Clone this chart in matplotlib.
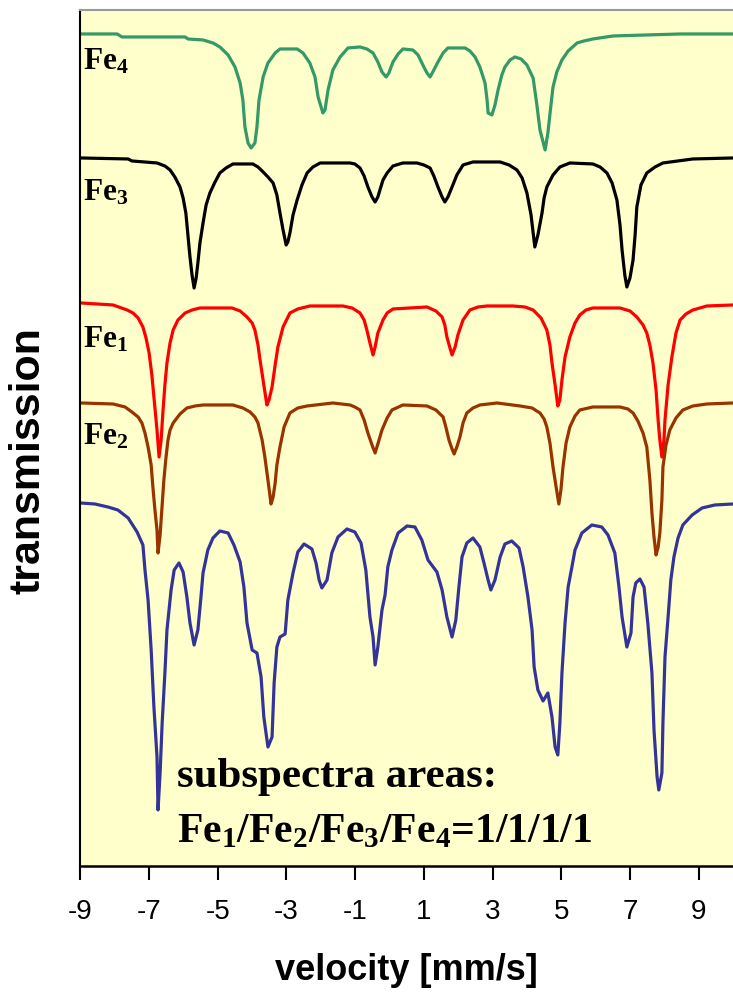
import matplotlib
matplotlib.use('Agg')
import matplotlib.pyplot as plt

# 速度 (mm/s) 和 透射率 (任意单位, 各子谱已上下叠放)
fe4_v = [-8.98, -7.93, -7.79, -5.95, -5.87, -5.43, -5.14, -4.94, -4.70, -4.50, -4.35, -4.27, -4.21,
         -4.12, -4.03, -3.92, -3.86, -3.80, -3.68, -3.54, -3.33, -3.19, -2.69, -2.52, -2.32, -2.17,
         -2.08, -1.94, -1.88, -1.79, -1.65, -1.44, -1.21, -0.86, -0.66, -0.48, -0.34, -0.22, -0.10,
         -0.02, 0.10, 0.25, 0.39, 0.68, 0.83, 0.97, 1.09, 1.18, 1.26, 1.41, 1.56, 1.70, 2.20, 2.34,
         2.49, 2.63, 2.78, 2.84, 2.87, 2.98, 3.07, 3.16, 3.27, 3.36, 3.51, 3.65, 3.83, 4.00, 4.18,
         4.29, 4.38, 4.53, 4.61, 4.70, 4.76, 4.87, 5.02, 5.20, 5.46, 5.66, 5.92, 6.51, 8.46, 10.0]
fe4_t = [8.32, 8.32, 8.29, 8.29, 8.27, 8.26, 8.23, 8.19, 8.11, 7.99, 7.83, 7.66, 7.39,
         7.23, 7.18, 7.23, 7.39, 7.66, 7.89, 8.03, 8.13, 8.17, 8.17, 8.13, 8.03, 7.89,
         7.69, 7.53, 7.56, 7.76, 7.96, 8.09, 8.18, 8.19, 8.17, 8.13, 8.04, 7.94, 7.89,
         7.93, 8.04, 8.12, 8.17, 8.16, 8.11, 8.01, 7.93, 7.89, 7.94, 8.04, 8.13, 8.18, 8.18, 8.15,
         8.09, 7.99, 7.83, 7.66, 7.53, 7.51, 7.61, 7.76, 7.91, 7.99, 8.06, 8.09, 8.07, 8.01, 7.88,
         7.61, 7.36, 7.16, 7.33, 7.61, 7.79, 7.94, 8.06, 8.15, 8.23, 8.25, 8.27, 8.30, 8.32, 8.32]

fe3_v = [-8.98, -7.61, -7.50, -6.77, -6.54, -6.39, -6.25, -6.10, -6.01, -5.93, -5.87, -5.81, -5.75,
         -5.69, -5.63, -5.58, -5.52, -5.43, -5.34, -5.23, -5.08, -4.94, -4.76, -4.56, -3.98, -3.83,
         -3.68, -3.54, -3.39, -3.28, -3.19, -3.10, -3.01, -2.96, -2.90, -2.81, -2.69, -2.55, -2.40,
         -2.23, -2.02, -1.15, -1.01, -0.86, -0.74, -0.63, -0.51, -0.42, -0.34, -0.28, -0.19, -0.07,
         0.10, 0.39, 0.80, 1.00, 1.18, 1.29, 1.41, 1.53, 1.61, 1.70, 1.82, 1.96, 2.14, 2.43, 3.22,
         3.48, 3.71, 3.86, 4.00, 4.12, 4.23, 4.32, 4.44, 4.50, 4.58, 4.76, 4.96, 5.25, 5.92, 6.13,
         6.33, 6.48, 6.62, 6.71, 6.77, 6.85, 6.91, 7.00, 7.09, 7.15, 7.20, 7.32, 7.49, 7.73, 7.96,
         8.83, 10.0]
fe3_t = [7.08, 7.07, 7.05, 7.03, 7.00, 6.96, 6.89, 6.79, 6.68, 6.53, 6.31, 6.09, 5.91,
         5.78, 5.88, 6.03, 6.23, 6.43, 6.61, 6.73, 6.84, 6.93, 6.98, 7.02, 7.02, 6.99,
         6.94, 6.89, 6.83, 6.71, 6.53, 6.36, 6.21, 6.24, 6.33, 6.51, 6.66, 6.81, 6.93,
         6.99, 7.03, 7.03, 7.02, 6.98, 6.90, 6.79, 6.69, 6.64, 6.69, 6.76, 6.86, 6.93,
         7.00, 7.03, 7.03, 7.01, 6.98, 6.90, 6.79, 6.69, 6.64, 6.69, 6.79, 6.91, 7.01, 7.04, 7.04,
         7.01, 6.96, 6.88, 6.73, 6.51, 6.19, 6.31, 6.53, 6.68, 6.79, 6.91, 6.99, 7.03, 7.02, 6.99,
         6.93, 6.83, 6.66, 6.41, 6.16, 5.91, 5.79, 5.88, 6.06, 6.31, 6.59, 6.81, 6.93, 6.99, 7.03,
         7.07, 7.08]

fe1_v = [-8.98, -8.05, -7.64, -7.47, -7.32, -7.18, -7.09, -7.00, -6.92, -6.86, -6.77, -6.71, -6.65,
         -6.60, -6.54, -6.48, -6.39, -6.30, -6.16, -5.95, -5.75, -5.52, -4.59, -4.35, -4.15, -4.00,
         -3.92, -3.83, -3.77, -3.66, -3.57, -3.51, -3.42, -3.33, -3.25, -3.10, -2.90, -2.67, -2.32,
         -1.36, -1.09, -0.86, -0.74, -0.66, -0.57, -0.48, -0.42, -0.34, -0.19, -0.07, 0.10, 1.09,
         1.35, 1.53, 1.61, 1.67, 1.76, 1.82, 1.91, 1.99, 2.14, 2.34, 2.58, 2.84, 3.59, 3.94, 4.18,
         4.41, 4.58, 4.67, 4.73, 4.82, 4.90, 4.96, 5.02, 5.11, 5.25, 5.40, 5.54, 5.72, 5.92, 6.71,
         7.00, 7.20, 7.38, 7.49, 7.58, 7.67, 7.76, 7.82, 7.87, 7.93, 7.99, 8.02, 8.11, 8.22, 8.34,
         8.46, 8.63, 8.83, 9.24, 10.0]
fe1_t = [5.63, 5.61, 5.56, 5.53, 5.48, 5.39, 5.28, 5.13, 4.91, 4.69, 4.36, 4.09, 4.26,
         4.53, 4.81, 5.03, 5.23, 5.36, 5.46, 5.53, 5.56, 5.58, 5.58, 5.55, 5.49, 5.43,
         5.36, 5.21, 5.06, 4.81, 4.61, 4.66, 4.79, 5.01, 5.19, 5.39, 5.53, 5.57, 5.60,
         5.60, 5.58, 5.53, 5.46, 5.36, 5.23, 5.11, 5.19, 5.33, 5.46, 5.53, 5.57, 5.59,
         5.55, 5.49, 5.41, 5.29, 5.18, 5.11, 5.19, 5.31, 5.46, 5.56, 5.59, 5.60, 5.60, 5.59, 5.56,
         5.48, 5.36, 5.21, 5.03, 4.81, 4.60, 4.66, 4.86, 5.09, 5.29, 5.43, 5.51, 5.56, 5.58, 5.58,
         5.55, 5.49, 5.41, 5.33, 5.21, 5.03, 4.76, 4.46, 4.26, 4.09, 4.26, 4.46, 4.81, 5.09, 5.33,
         5.46, 5.52, 5.56, 5.60, 5.61]

fe2_v = [-8.98, -8.05, -7.70, -7.50, -7.32, -7.21, -7.12, -7.03, -6.94, -6.89, -6.83, -6.77, -6.74,
         -6.68, -6.65, -6.60, -6.57, -6.51, -6.45, -6.39, -6.30, -6.10, -5.90, -5.66, -5.43, -4.56,
         -4.27, -4.06, -3.92, -3.83, -3.71, -3.63, -3.54, -3.45, -3.39, -3.33, -3.28, -3.19, -3.07,
         -2.90, -2.67, -2.40, -1.65, -1.15, -1.01, -0.86, -0.74, -0.63, -0.51, -0.42, -0.34, -0.22,
         -0.07, 0.07, 0.39, 1.09, 1.35, 1.56, 1.64, 1.73, 1.82, 1.88, 1.96, 2.05, 2.14, 2.25, 2.43,
         2.63, 3.13, 3.80, 4.15, 4.38, 4.50, 4.58, 4.67, 4.76, 4.85, 4.93, 4.99, 5.05, 5.14, 5.25,
         5.40, 5.54, 5.92, 6.71, 6.94, 7.09, 7.23, 7.38, 7.49, 7.58, 7.64, 7.70, 7.76, 7.82, 7.87,
         7.93, 7.96, 8.05, 8.16, 8.34, 8.54, 8.83, 9.24, 10.0]
fe2_t = [4.63, 4.62, 4.59, 4.54, 4.49, 4.43, 4.33, 4.19, 4.01, 3.79, 3.56, 3.36, 3.13,
         3.31, 3.46, 3.71, 3.86, 4.08, 4.26, 4.36, 4.43, 4.52, 4.58, 4.60, 4.61, 4.61,
         4.58, 4.54, 4.49, 4.43, 4.26, 4.09, 3.86, 3.62, 3.69, 3.83, 4.01, 4.19, 4.39,
         4.53, 4.58, 4.60, 4.63, 4.61, 4.59, 4.56, 4.46, 4.33, 4.21, 4.13, 4.22, 4.36,
         4.48, 4.56, 4.61, 4.60, 4.56, 4.49, 4.39, 4.26, 4.17, 4.12, 4.19, 4.29, 4.43, 4.53, 4.58,
         4.61, 4.63, 4.60, 4.58, 4.53, 4.47, 4.39, 4.23, 3.99, 3.79, 3.62, 3.76, 3.99, 4.23, 4.39,
         4.50, 4.56, 4.59, 4.59, 4.57, 4.53, 4.45, 4.33, 4.19, 3.86, 3.53, 3.29, 3.11, 3.19, 3.33,
         3.66, 3.99, 4.21, 4.36, 4.48, 4.56, 4.60, 4.62, 4.63]

# 总谱
sum_v = [-9.00, -8.58, -8.20, -7.91, -7.61, -7.35, -7.18, -7.12, -7.03, -6.94, -6.86, -6.77, -6.74,
         -6.68, -6.62, -6.54, -6.48, -6.36, -6.27, -6.13, -6.01, -5.90, -5.81, -5.69, -5.58, -5.49,
         -5.43, -5.29, -5.14, -4.94, -4.70, -4.53, -4.35, -4.24, -4.15, -4.00, -3.86, -3.74, -3.66,
         -3.54, -3.42, -3.36, -3.28, -3.19, -3.04, -2.96, -2.81, -2.67, -2.49, -2.26, -2.14, -2.05,
         -1.97, -1.82, -1.68, -1.50, -1.24, -1.01, -0.83, -0.69, -0.57, -0.48, -0.42, -0.34, -0.22,
         -0.13, -0.05, 0.07, 0.25, 0.51, 0.74, 0.94, 1.12, 1.38, 1.53, 1.67, 1.82, 1.93, 2.02, 2.11,
         2.25, 2.43, 2.63, 2.75, 2.87, 2.95, 3.07, 3.22, 3.36, 3.56, 3.77, 3.89, 4.03, 4.15, 4.21,
         4.32, 4.47, 4.61, 4.73, 4.82, 4.90, 4.96, 5.02, 5.11, 5.20, 5.31, 5.40, 5.60, 5.89, 6.18,
         6.36, 6.56, 6.68, 6.77, 6.91, 7.03, 7.09, 7.17, 7.29, 7.41, 7.52, 7.64, 7.70, 7.79, 7.84,
         7.93, 7.96, 8.02, 8.11, 8.19, 8.28, 8.40, 8.54, 8.81, 9.10, 9.47, 10.0]
sum_t = [3.63, 3.62, 3.59, 3.56, 3.48, 3.34, 3.21, 2.96, 2.66, 2.16, 1.59, 1.09, 0.56,
         0.93, 1.43, 1.93, 2.36, 2.76, 2.96, 3.03, 2.94, 2.69, 2.43, 2.21, 2.36, 2.69,
         2.93, 3.16, 3.28, 3.35, 3.33, 3.21, 3.04, 2.79, 2.43, 2.16, 2.13, 1.89, 1.49,
         1.19, 1.29, 1.83, 2.19, 2.29, 2.32, 2.66, 2.93, 3.14, 3.22, 3.17, 3.03, 2.86,
         2.78, 2.86, 3.13, 3.29, 3.37, 3.34, 3.23, 2.96, 2.49, 2.29, 2.01, 2.19, 2.56,
         2.71, 2.99, 3.16, 3.33, 3.40, 3.39, 3.26, 3.06, 2.94, 2.76, 2.49, 2.29, 2.46, 2.79, 3.09,
         3.23, 3.28, 3.19, 3.03, 2.86, 2.76, 2.86, 3.09, 3.22, 3.25, 3.18, 2.99, 2.69, 2.36, 1.99,
         1.76, 1.65, 1.73, 1.49, 1.19, 1.11, 1.43, 1.93, 2.43, 2.79, 2.99, 3.16, 3.33, 3.41, 3.39,
         3.31, 3.13, 2.79, 2.49, 2.19, 2.33, 2.69, 2.83, 2.87, 2.79, 2.43, 1.93, 1.36, 0.89, 0.76,
         0.93, 1.43, 2.09, 2.49, 2.86, 3.09, 3.28, 3.41, 3.51, 3.58, 3.61, 3.62]

xticks = [-9, -7, -5, -3, -1, 1, 3, 5, 7, 9]

# 下标用粗体衬线字
plt.rcParams['mathtext.fontset'] = 'custom'
plt.rcParams['mathtext.rm'] = 'Liberation Serif:bold'
plt.rcParams['mathtext.default'] = 'rm'

fig = plt.figure(figsize=(7.33, 9.97), dpi=100)
ax = fig.add_axes([0.1097, 0.1314, 0.8903, 0.8586])
ax.set_facecolor('#FFFFCC')

ax.plot(fe4_v, fe4_t, color='#339966', lw=2.3)
ax.plot(fe3_v, fe3_t, color='black', lw=2.3)
ax.plot(fe1_v, fe1_t, color='#FF0000', lw=2.3)
ax.plot(fe2_v, fe2_t, color='#993300', lw=2.3)
ax.plot(sum_v, sum_t, color='#333399', lw=2.3)

ax.set_xlim(-9, 10)
ax.set_ylim(0, 8.56)
ax.set_xticks(xticks)
ax.set_xticklabels([str(t) for t in xticks], fontsize=20, family='Liberation Sans')
ax.set_yticks([])
ax.tick_params(axis='x', direction='out', length=10, width=1.5, pad=14)

ax.spines['right'].set_visible(False)
ax.spines['top'].set_color('#999999')
ax.spines['top'].set_linewidth(1.5)
ax.spines['left'].set_linewidth(1.5)
ax.spines['bottom'].set_linewidth(1.8)

# 子谱标签
serif = dict(family='Liberation Serif', fontweight='bold', color='black')
ax.text(-8.93, 7.96, 'Fe$_{4}$', fontsize=22.5, **serif)
ax.text(-8.93, 6.65, 'Fe$_{3}$', fontsize=22.5, **serif)
ax.text(-8.93, 5.18, 'Fe$_{1}$', fontsize=22.5, **serif)
ax.text(-8.93, 4.21, 'Fe$_{2}$', fontsize=22.5, **serif)
ax.text(-6.19, 0.79, 'subspectra areas:', fontsize=31, **serif)
ax.text(-6.19, 0.24, 'Fe$_{1}$/Fe$_{2}$/Fe$_{3}$/Fe$_{4}$=1/1/1/1', fontsize=30, **serif)

ax.set_xlabel('velocity [mm/s]', fontsize=26, fontweight='bold', family='Liberation Sans', labelpad=20)
ax.set_ylabel('transmission', fontsize=31, fontweight='bold', family='Liberation Sans', va='center')
ax.yaxis.set_label_coords(-0.08, 0.474)

fig.savefig('out.png', dpi=100)
